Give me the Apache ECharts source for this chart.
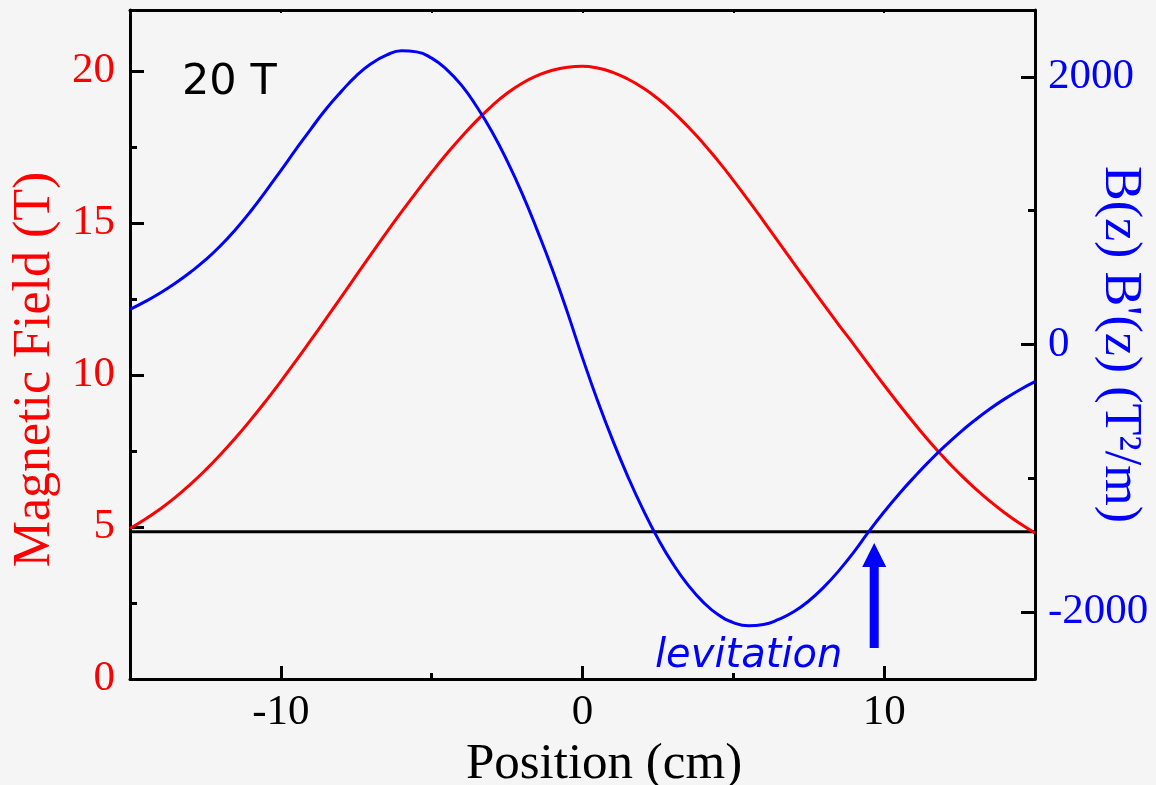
<!DOCTYPE html>
<html>
<head>
<meta charset="utf-8">
<title>Magnetic levitation field profile</title>
<script src="https://cdn.jsdelivr.net/npm/echarts@6/dist/echarts.min.js"></script>
<style>
  html, body { margin: 0; padding: 0; background: #f5f5f6; }
  #chart { width: 1156px; height: 785px; }
</style>
</head>
<body>
<div id="chart"></div>
<script>
// zPos -- position (cm)
// fieldB -- B(z), left axis (T)
// forceB -- B(z)B'(z), right axis (T^2/m)
var zPos = [-15, -14.5, -14, -13.5, -13, -12.5, -12, -11.5, -11, -10.5, -10, -9.5, -9, -8.5, -8, -7.5,
            -7, -6.5, -6, -5.5, -5, -4.5, -4, -3.5, -3, -2.5, -2, -1.5, -1, -0.5, 0,
            0.5, 1, 1.5, 2, 2.5, 3, 3.5, 4, 4.5, 5, 5.5, 6, 6.5, 7, 7.5,
            8, 8.5, 9, 9.5, 10, 10.5, 11, 11.5, 12, 12.5, 13, 13.5, 14, 14.5, 15];
var fieldB = [4.95, 5.25, 5.59, 5.97, 6.4, 6.87, 7.38, 7.93, 8.52, 9.14, 9.79, 10.46, 11.15, 11.85, 12.56, 13.27,
              13.98, 14.68, 15.36, 16.02, 16.66, 17.27, 17.84, 18.37, 18.85, 19.26, 19.59, 19.84, 20.02, 20.12, 20.15,
              20.09, 19.95, 19.73, 19.44, 19.08, 18.65, 18.16, 17.62, 17.03, 16.4, 15.74, 15.06, 14.37, 13.68, 12.99,
              12.31, 11.64, 10.99, 10.32, 9.66, 9.02, 8.4, 7.81, 7.26, 6.75, 6.28, 5.85, 5.46, 5.11, 4.8];
var forceB = [262, 320, 385, 458, 540, 632, 738, 860, 996, 1145, 1300, 1458, 1612, 1760, 1890, 2008,
              2100, 2162, 2195, 2187, 2140, 2055, 1935, 1775, 1590, 1372, 1128, 853, 560, 240, -100,
              -420, -715, -985, -1231, -1451, -1640, -1798, -1925, -2020, -2078, -2102, -2093, -2055, -1998, -1917,
              -1813, -1690, -1550, -1395, -1250, -1115, -990, -872, -762, -660, -567, -482, -406, -338, -278];
// levitation threshold line (left axis)
var levelZ = [-15, 15];
var levelB = [4.84, 4.84];
// tick labels
var xTicks = [-10, 0, 10];
var xMinor = [-5, 5];
var xTop = [-10, -5, 0, 5, 10];
var leftTicks = [0, 5, 10, 15, 20];
var leftMinor = [2.5, 7.5, 12.5, 17.5];
var rightTicks = [-2000, 0, 2000];
var rightMinor = [-1000, 1000];
// arrow (data coords on left axis)
var arrowZ = 9.67, arrowTop = 4.47, arrowBottom = 1.02;

var serif = '"Liberation Serif", "Times New Roman", serif';

function pairs(xs, ys) {
	return xs.map(function(x, i) { return [x, ys[i]]; });
}
function plain(v) { return String(v); }
//只显示刻度的辅助坐标轴
function extraAxis(base, extra) {
	var o = { axisLine: { show: false, onZero: false }, axisLabel: { show: false }, splitLine: { show: false } };
	for (var k in base) o[k] = base[k];
	for (var k2 in extra) o[k2] = extra[k2];
	return o;
}

var myChart = echarts.init(document.getElementById('chart'));

var frameLine = { show: true, onZero: false, lineStyle: { color: '#000', width: 3 } };

var option = {
	backgroundColor: '#f5f5f6',
	animation: false,
	grid: { left: 130, right: 121, top: 10, bottom: 106, containLabel: false, outerBoundsMode: 'none' },
	xAxis: [
		{
			type: 'value', min: -15, max: 15, position: 'bottom',
			axisLine: frameLine,
			axisTick: { show: true, inside: true, length: 13, customValues: xTicks, lineStyle: { color: '#000', width: 3 } },
			axisLabel: { customValues: xTicks, formatter: plain, color: '#000', fontFamily: serif, fontSize: 43, margin: 12 },
			splitLine: { show: false },
			name: 'Position (cm)', nameLocation: 'middle', nameGap: 52,
			nameTextStyle: { color: '#000', fontFamily: serif, fontSize: 51, padding: [0, 0, 0, 43] }
		},
		extraAxis({ type: 'value', min: -15, max: 15, position: 'bottom' }, {
			axisTick: { show: true, inside: true, length: 6, customValues: xMinor, lineStyle: { color: '#000', width: 3 } }
		}),
		extraAxis({ type: 'value', min: -15, max: 15, position: 'top' }, {
			axisLine: frameLine,
			axisTick: { show: true, inside: true, length: 3, customValues: xTop, lineStyle: { color: '#000', width: 2 } }
		})
	],
	yAxis: [
		{
			type: 'value', min: 0, max: 22, position: 'left',
			axisLine: frameLine,
			axisTick: { show: true, inside: true, length: 14, customValues: leftTicks, lineStyle: { color: '#000', width: 3 } },
			axisLabel: { customValues: leftTicks, formatter: plain, color: '#ff0000', fontFamily: serif, fontSize: 43, margin: 15 },
			splitLine: { show: false },
			name: 'Magnetic Field (T)', nameLocation: 'middle', nameGap: 90,
			nameTextStyle: { color: '#ff0000', fontFamily: serif, fontSize: 52, verticalAlign: 'middle', padding: [0, 50, 0, 0] }
		},
		extraAxis({ type: 'value', min: 0, max: 22, position: 'left' }, {
			axisTick: { show: true, inside: true, length: 7, customValues: leftMinor, lineStyle: { color: '#000', width: 3 } }
		}),
		{
			type: 'value', min: -2500, max: 2500, position: 'right',
			axisLine: frameLine,
			axisTick: { show: true, inside: true, length: 14, customValues: rightTicks, lineStyle: { color: '#000', width: 3 } },
			axisLabel: { customValues: rightTicks, formatter: plain, color: '#0000ff', fontFamily: serif, fontSize: 43, margin: 13 },
			splitLine: { show: false },
			name: "B(z) B'(z) (T²/m)", nameLocation: 'middle', nameGap: 85, nameRotate: -90, nameMoveOverlap: false,
			nameTextStyle: { color: '#0000ff', fontFamily: serif, fontSize: 52, verticalAlign: 'middle', align: 'center' }
		},
		extraAxis({ type: 'value', min: -2500, max: 2500, position: 'right' }, {
			axisTick: { show: true, inside: true, length: 7, customValues: rightMinor, lineStyle: { color: '#000', width: 3 } }
		})
	],
	series: [
		{
			type: 'line', name: 'B', xAxisIndex: 0, yAxisIndex: 0,
			data: pairs(zPos, fieldB), smooth: 0.5, showSymbol: false,
			lineStyle: { color: '#ff0000', width: 3 }, z: 3
		},
		{
			type: 'line', name: 'BdB', xAxisIndex: 0, yAxisIndex: 2,
			data: pairs(zPos, forceB), smooth: 0.5, showSymbol: false,
			lineStyle: { color: '#0000ff', width: 3 }, z: 4
		},
		{
			type: 'line', name: 'level', xAxisIndex: 0, yAxisIndex: 0,
			data: pairs(levelZ, levelB), showSymbol: false,
			lineStyle: { color: '#000', width: 3 }, z: 2
		}
	]
};
myChart.setOption(option);

// 箭头和文字注释
var tip = myChart.convertToPixel({ xAxisIndex: 0, yAxisIndex: 0 }, [arrowZ, arrowTop]);
var foot = myChart.convertToPixel({ xAxisIndex: 0, yAxisIndex: 0 }, [arrowZ, arrowBottom]);
var cx = tip[0], headH = 24, headW = 12, shaftW = 4.5;
myChart.setOption({
	graphic: [
		{
			type: 'polygon', z: 10,
			shape: { points: [
				[cx, tip[1]], [cx + headW, tip[1] + headH], [cx + shaftW, tip[1] + headH],
				[cx + shaftW, foot[1]], [cx - shaftW, foot[1]], [cx - shaftW, tip[1] + headH],
				[cx - headW, tip[1] + headH]
			] },
			style: { fill: '#0000ff' }
		},
		{
			type: 'text', left: 182, top: 61, z: 10,
			style: { text: '20 T', fill: '#000', font: '43px "DejaVu Sans", sans-serif' }
		},
		{
			type: 'text', left: 655, top: 637, z: 10,
			style: { text: 'levitation', fill: '#0000ff', font: 'italic 40px "DejaVu Sans", sans-serif' }
		}
	]
});
</script>
</body>
</html>
